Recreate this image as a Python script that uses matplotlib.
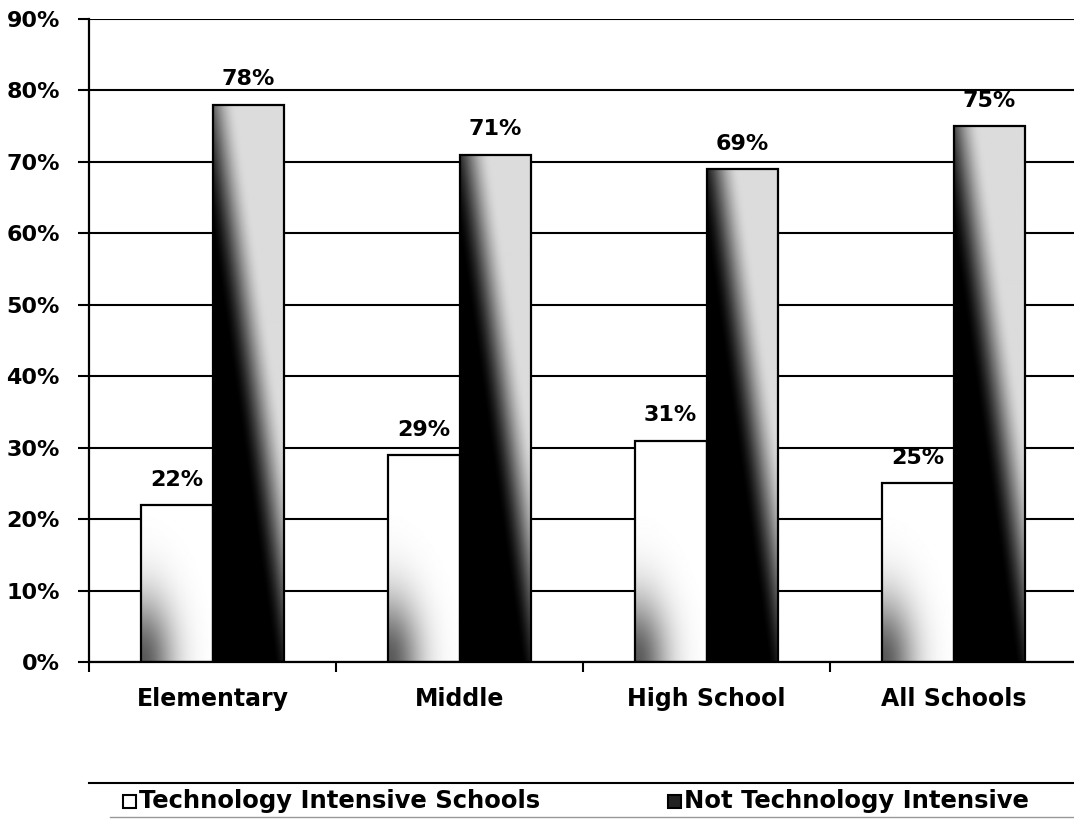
import numpy as np
import matplotlib
matplotlib.use("Agg")
import matplotlib.pyplot as plt
from matplotlib.lines import Line2D
from matplotlib.patches import Rectangle

# Datos
categorias = ["Elementary", "Middle", "High School", "All Schools"]
tech_intensive = [22, 29, 31, 25]
not_tech = [78, 71, 69, 75]
series_labels = ["Technology Intensive Schools", "Not Technology Intensive"]
yticks = [0, 10, 20, 30, 40, 50, 60, 70, 80, 90]

plt.rcParams['font.family'] = ['DejaVu Sans']
plt.rcParams['font.weight'] = 'bold'

W, H = 1074, 819
fig = plt.figure(figsize=(W / 100, H / 100), dpi=100)
ax = fig.add_axes([89 / W, 157 / H, 988 / W, 643 / H])

bw = 0.29
x = np.arange(len(categorias))


def shade_dark(x0, h):
    # negro abajo a la izquierda, gris claro arriba a la derecha
    u = np.linspace(0, 1, 80)[None, :]
    y = np.linspace(0, h, 300)[:, None]
    ub = 0.85 - 1.45 * y / 100
    t = np.clip((u - ub) / 0.6, 0, 1)
    img = (t * t * (3 - 2 * t)) * 0.86
    ax.imshow(img, cmap='gray', vmin=0, vmax=1, origin='lower', aspect='auto',
              extent=(x0, x0 + bw, 0, h), interpolation='bilinear', zorder=2)


def shade_light(x0, h):
    # casi blanco, gris en la esquina inferior izquierda
    u = np.linspace(0, 1, 80)[None, :]
    y = np.linspace(0, h, 300)[:, None]
    img = 1 - 0.65 * np.exp(-((u / 0.45) ** 2 + (y / 9) ** 2))
    ax.imshow(img, cmap='gray', vmin=0, vmax=1, origin='lower', aspect='auto',
              extent=(x0, x0 + bw, 0, h), interpolation='bilinear', zorder=2)


for i in range(len(categorias)):
    shade_light(x[i] - bw, tech_intensive[i])
    shade_dark(x[i], not_tech[i])

ax.bar(x - bw / 2, tech_intensive, bw, facecolor='none', edgecolor='black',
       linewidth=1.6, zorder=3)
ax.bar(x + bw / 2, not_tech, bw, facecolor='none', edgecolor='black',
       linewidth=1.6, zorder=3)

for i in range(len(categorias)):
    ax.annotate(f"{tech_intensive[i]}%", (x[i] - bw / 2, tech_intensive[i]),
                xytext=(0, 11), textcoords='offset points', ha='center', va='bottom',
                fontsize=16, fontweight='bold')
    ax.annotate(f"{not_tech[i]}%", (x[i] + bw / 2, not_tech[i]),
                xytext=(0, 11), textcoords='offset points', ha='center', va='bottom',
                fontsize=16, fontweight='bold')

ax.set_xlim(-0.5, len(categorias) - 0.5)
ax.set_ylim(0, 90)
ax.set_yticks(yticks)
ax.set_yticklabels([f"{v}%" for v in yticks], fontsize=16, fontweight='bold')
ax.yaxis.grid(True, color='black', linewidth=1.5)
ax.set_axisbelow(True)

# ticks del eje x en los limites de las categorias
ax.set_xticks(np.arange(len(categorias) + 1) - 0.5)
ax.set_xticklabels([])
ax.set_xticks(x, minor=True)
ax.set_xticklabels(categorias, minor=True, fontsize=17, fontweight='bold')
ax.tick_params(axis='x', which='minor', length=0, pad=18)
ax.tick_params(axis='x', which='major', length=7, width=1.5, direction='out')
ax.tick_params(axis='y', length=8, width=1.5, direction='out', pad=13)

for s in ['top', 'right']:
    ax.spines[s].set_visible(False)
ax.spines['left'].set_linewidth(1.6)
ax.spines['bottom'].set_linewidth(1.6)

# leyenda
ytop = 1 - 783 / H
ybot = 1 - 817 / H
fig.add_artist(Line2D([89 / W, 1], [ytop, ytop], color='black', lw=1.5))
fig.add_artist(Line2D([110 / W, 1], [ybot, ybot], color='#999999', lw=1.0))
ymid = 1 - 801 / H
sq = 13
fig.add_artist(Rectangle((123 / W, ymid - sq / 2 / H), sq / W, sq / H,
                         facecolor='white', edgecolor='black', lw=1.5))
fig.add_artist(Rectangle((668 / W, ymid - sq / 2 / H), sq / W, sq / H,
                         facecolor='#222222', edgecolor='black', lw=1.5))
fig.text(139 / W, ymid, series_labels[0], fontsize=17.5, fontweight='bold', va='center')
fig.text(684 / W, ymid, series_labels[1], fontsize=17.5, fontweight='bold', va='center')

fig.savefig("out.png", dpi=100)
